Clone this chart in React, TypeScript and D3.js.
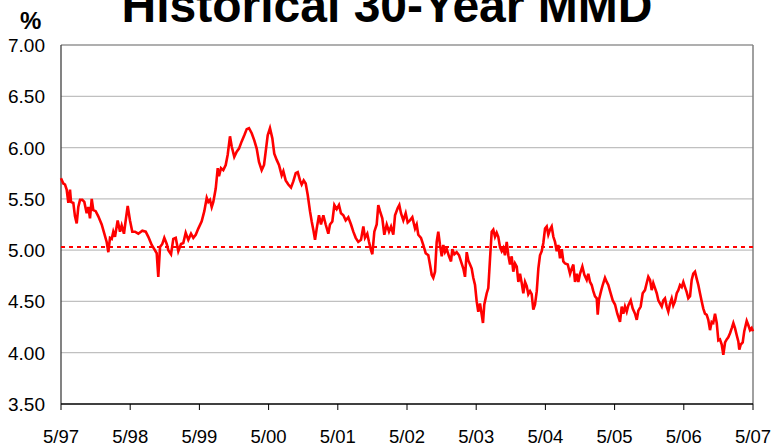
import React from "react";
import * as d3 from "d3";

// Dates as decimal years, yields in %
const years = [
  1997.333, 1997.366, 1997.391, 1997.415, 1997.439, 1997.463, 1997.478, 1997.511, 1997.535, 1997.56,
  1997.583, 1997.608, 1997.641, 1997.67, 1997.704, 1997.728, 1997.752, 1997.777, 1997.8, 1997.834,
  1997.872, 1997.921, 1997.959, 1997.993, 1998.017, 1998.041, 1998.066, 1998.089, 1998.113, 1998.152,
  1998.186, 1998.21, 1998.243, 1998.268, 1998.297, 1998.33, 1998.363, 1998.402, 1998.45, 1998.508,
  1998.557, 1998.595, 1998.644, 1998.681, 1998.716, 1998.739, 1998.764, 1998.797, 1998.826, 1998.861,
  1998.884, 1998.923, 1998.956, 1998.991, 1999.028, 1999.067, 1999.1, 1999.135, 1999.173, 1999.212,
  1999.245, 1999.28, 1999.317, 1999.366, 1999.404, 1999.439, 1999.462, 1999.486, 1999.511, 1999.534,
  1999.569, 1999.598, 1999.616, 1999.645, 1999.678, 1999.713, 1999.742, 1999.775, 1999.8, 1999.837,
  1999.872, 1999.905, 1999.944, 1999.982, 2000.017, 2000.05, 2000.089, 2000.126, 2000.161, 2000.194,
  2000.233, 2000.267, 2000.291, 2000.32, 2000.353, 2000.387, 2000.415, 2000.45, 2000.483, 2000.522,
  2000.546, 2000.58, 2000.618, 2000.657, 2000.69, 2000.725, 2000.754, 2000.787, 2000.811, 2000.84,
  2000.869, 2000.898, 2000.931, 2000.956, 2000.979, 2001.004, 2001.028, 2001.061, 2001.09, 2001.124,
  2001.158, 2001.196, 2001.22, 2001.254, 2001.283, 2001.317, 2001.35, 2001.379, 2001.413, 2001.447,
  2001.485, 2001.524, 2001.557, 2001.592, 2001.629, 2001.668, 2001.702, 2001.726, 2001.759, 2001.784,
  2001.813, 2001.832, 2001.861, 2001.895, 2001.918, 2001.943, 2001.976, 2002.005, 2002.04, 2002.073,
  2002.102, 2002.135, 2002.16, 2002.199, 2002.222, 2002.246, 2002.28, 2002.314, 2002.343, 2002.376,
  2002.41, 2002.449, 2002.473, 2002.496, 2002.535, 2002.569, 2002.603, 2002.641, 2002.665, 2002.69,
  2002.713, 2002.738, 2002.762, 2002.785, 2002.81, 2002.835, 2002.858, 2002.882, 2002.907, 2002.94,
  2002.969, 2002.988, 2003.017, 2003.051, 2003.085, 2003.113, 2003.147, 2003.171, 2003.196, 2003.219,
  2003.244, 2003.268, 2003.291, 2003.316, 2003.34, 2003.363, 2003.388, 2003.413, 2003.431, 2003.45,
  2003.485, 2003.508, 2003.533, 2003.557, 2003.58, 2003.605, 2003.629, 2003.652, 2003.677, 2003.702,
  2003.725, 2003.749, 2003.774, 2003.797, 2003.822, 2003.846, 2003.869, 2003.894, 2003.919, 2003.942,
  2003.966, 2003.991, 2004.014, 2004.039, 2004.063, 2004.086, 2004.111, 2004.135, 2004.158, 2004.183,
  2004.208, 2004.231, 2004.255, 2004.28, 2004.303, 2004.328, 2004.352, 2004.375, 2004.4, 2004.424,
  2004.448, 2004.472, 2004.497, 2004.52, 2004.544, 2004.569, 2004.592, 2004.617, 2004.656, 2004.689,
  2004.713, 2004.737, 2004.761, 2004.786, 2004.809, 2004.833, 2004.867, 2004.896, 2004.93, 2004.953,
  2004.978, 2005.002, 2005.025, 2005.05, 2005.075, 2005.089, 2005.108, 2005.137, 2005.161, 2005.194,
  2005.219, 2005.242, 2005.267, 2005.306, 2005.339, 2005.372, 2005.411, 2005.436, 2005.459, 2005.483,
  2005.508, 2005.531, 2005.566, 2005.595, 2005.628, 2005.653, 2005.676, 2005.71, 2005.739, 2005.772,
  2005.797, 2005.82, 2005.845, 2005.869, 2005.892, 2005.917, 2005.942, 2005.965, 2005.989, 2006.014,
  2006.037, 2006.061, 2006.086, 2006.109, 2006.134, 2006.158, 2006.181, 2006.206, 2006.231, 2006.254,
  2006.278, 2006.303, 2006.326, 2006.35, 2006.375, 2006.398, 2006.423, 2006.447, 2006.47, 2006.495,
  2006.52, 2006.543, 2006.567, 2006.592, 2006.615, 2006.639, 2006.664, 2006.687, 2006.712, 2006.736,
  2006.759, 2006.784, 2006.809, 2006.832, 2006.856, 2006.881, 2006.904, 2006.929, 2006.953, 2006.976,
  2007.001, 2007.026, 2007.049, 2007.073, 2007.098, 2007.121, 2007.135, 2007.156, 2007.184, 2007.207,
  2007.242, 2007.265, 2007.29, 2007.314, 2007.333,
];

const yields = [
  5.7, 5.65, 5.64, 5.59, 5.46, 5.59, 5.47, 5.46, 5.33, 5.26,
  5.42, 5.49, 5.49, 5.47, 5.36, 5.42, 5.31, 5.5, 5.39, 5.38,
  5.33, 5.25, 5.16, 5.08, 4.98, 5.12, 5.11, 5.18, 5.13, 5.29,
  5.18, 5.24, 5.16, 5.29, 5.43, 5.29, 5.18, 5.18, 5.16, 5.19,
  5.18, 5.13, 5.05, 5.01, 4.97, 4.74, 5.03, 5.06, 5.12, 5.06,
  5.0, 4.96, 5.11, 5.12, 4.99, 5.06, 5.07, 5.17, 5.1, 5.16,
  5.12, 5.15, 5.21, 5.28, 5.38, 5.51, 5.47, 5.49, 5.42, 5.47,
  5.6, 5.8, 5.72, 5.8, 5.78, 5.83, 5.93, 6.11, 6.01, 5.91,
  5.96, 5.99, 6.06, 6.12, 6.18, 6.19, 6.14, 6.07, 5.99, 5.86,
  5.78, 5.83, 5.96, 6.12, 6.19, 6.09, 5.94, 5.88, 5.83, 5.73,
  5.77, 5.68, 5.64, 5.61, 5.67, 5.75, 5.76, 5.68, 5.64, 5.68,
  5.65, 5.54, 5.38, 5.28, 5.2, 5.1, 5.21, 5.34, 5.25, 5.34,
  5.25, 5.16, 5.25, 5.28, 5.44, 5.4, 5.44, 5.36, 5.34, 5.29,
  5.32, 5.25, 5.18, 5.12, 5.08, 5.1, 5.23, 5.12, 5.16, 5.08,
  5.0, 4.96, 5.18, 5.25, 5.44, 5.38, 5.31, 5.15, 5.25, 5.18,
  5.23, 5.15, 5.34, 5.41, 5.44, 5.36, 5.29, 5.36, 5.27, 5.29,
  5.32, 5.21, 5.25, 5.15, 5.12, 5.05, 4.97, 4.95, 4.86, 4.76,
  4.73, 4.79, 5.08, 5.18, 5.05, 4.94, 5.05, 4.98, 5.01, 4.94,
  4.89, 5.01, 4.96, 4.98, 4.95, 4.89, 4.82, 4.74, 4.98, 4.9,
  4.86, 4.82, 4.73, 4.66, 4.5, 4.4, 4.48, 4.37, 4.29, 4.47,
  4.58, 4.63, 4.92, 5.18, 5.2, 5.13, 5.17, 5.13, 5.03, 4.99,
  5.02, 4.95, 5.08, 4.95, 4.86, 4.94, 4.79, 4.87, 4.84, 4.69,
  4.77, 4.68, 4.58, 4.69, 4.65, 4.57, 4.6, 4.57, 4.42, 4.47,
  4.6, 4.82, 4.95, 4.99, 5.07, 5.21, 5.23, 5.15, 5.2, 5.23,
  5.13, 5.08, 4.99, 5.05, 4.92, 5.01, 4.89, 4.87, 4.86, 4.77,
  4.82, 4.86, 4.69, 4.77, 4.69, 4.77, 4.84, 4.76, 4.71, 4.77,
  4.69, 4.66, 4.6, 4.55, 4.53, 4.37, 4.52, 4.6, 4.66, 4.73,
  4.69, 4.66, 4.6, 4.51, 4.47, 4.38, 4.3, 4.45, 4.38, 4.45,
  4.4, 4.46, 4.51, 4.43, 4.38, 4.32, 4.41, 4.45, 4.58, 4.61,
  4.68, 4.74, 4.71, 4.61, 4.68, 4.63, 4.58, 4.51, 4.48, 4.45,
  4.51, 4.53, 4.45, 4.4, 4.48, 4.53, 4.46, 4.5, 4.58, 4.61,
  4.66, 4.64, 4.69, 4.64, 4.59, 4.53, 4.55, 4.71, 4.77, 4.79,
  4.72, 4.66, 4.58, 4.5, 4.43, 4.38, 4.37, 4.32, 4.22, 4.3,
  4.29, 4.38, 4.29, 4.12, 4.13, 4.08, 3.98, 4.1, 4.13, 4.15,
  4.19, 4.24, 4.29, 4.24, 4.17, 4.11, 4.03, 4.08, 4.1, 4.21,
  4.31, 4.27, 4.22, 4.24, 4.21,
];

const averageYield = 5.03;
const yTickValues = [3.5, 4.0, 4.5, 5.0, 5.5, 6.0, 6.5, 7.0];
const xTickValues = [1997.333, 1998.333, 1999.333, 2000.333, 2001.333, 2002.333, 2003.333, 2004.333, 2005.333, 2006.333, 2007.333];
const xTickLabels = ["5/97", "5/98", "5/99", "5/00", "5/01", "5/02", "5/03", "5/04", "5/05", "5/06", "5/07"];

const W = 772;
const H = 448;
const M = { left: 61, right: 19, top: 45, bottom: 44 };
const FONT = "Arial, 'Liberation Sans', Helvetica, sans-serif";

export default function App() {
  const x = d3.scaleLinear().domain([1997.333, 2007.333]).range([M.left, W - M.right]);
  const y = d3.scaleLinear().domain([3.5, 7.0]).range([H - M.bottom, M.top]);
  const pts = years.map((t, i) => [t, yields[i]] as [number, number]);
  const line = d3.line<[number, number]>().x((d) => x(d[0])).y((d) => y(d[1]));
  const x0 = M.left;
  const x1 = W - M.right;
  const yTop = M.top;
  const yBot = H - M.bottom;

  return (
    <svg width={W} height={H} style={{ position: "absolute", left: 0, top: 0, background: "#fff" }} fontFamily={FONT}>
      <rect x={0} y={0} width={W} height={H} fill="#fff" />
      {yTickValues.slice(1, -1).map((v) => (
        <line key={v} x1={x0} x2={x1} y1={y(v)} y2={y(v)} stroke="#c0c0c0" strokeWidth={1.2} />
      ))}
      <line x1={x0} x2={x1} y1={yTop} y2={yTop} stroke="#606060" strokeWidth={1.2} />
      <line x1={x1} x2={x1} y1={yTop} y2={yBot} stroke="#808080" strokeWidth={1.5} />
      <line x1={x0} x2={x0} y1={yTop} y2={yBot} stroke="#404040" strokeWidth={1.3} />
      <line
        x1={x0}
        x2={x1}
        y1={y(averageYield)}
        y2={y(averageYield)}
        stroke="#ff0000"
        strokeWidth={2}
        strokeDasharray="4,4"
      />
      <path d={line(pts) || ""} fill="none" stroke="#ff0000" strokeWidth={2.6} strokeLinejoin="miter" />
      <line x1={x0} x2={x1} y1={yBot} y2={yBot} stroke="#000" strokeWidth={1.3} />
      {xTickValues.map((t, i) => (
        <g key={t}>
          <line x1={x(t)} x2={x(t)} y1={yBot} y2={yBot + 6} stroke="#000" strokeWidth={1} />
          <text x={x(t)} y={443} textAnchor="middle" fontSize={18.5} fill="#000">
            {xTickLabels[i]}
          </text>
        </g>
      ))}
      {yTickValues.map((v) => (
        <text key={v} x={45} y={y(v) + 7} textAnchor="end" fontSize={19} fill="#000">
          {v.toFixed(2)}
        </text>
      ))}
      <text x={20} y={29} fontSize={24} fontWeight="bold" fill="#000">
        %
      </text>
      <text x={387} y={22} textAnchor="middle" fontSize={48} fontWeight="bold" fill="#000">
        Historical 30-Year MMD
      </text>
    </svg>
  );
}
